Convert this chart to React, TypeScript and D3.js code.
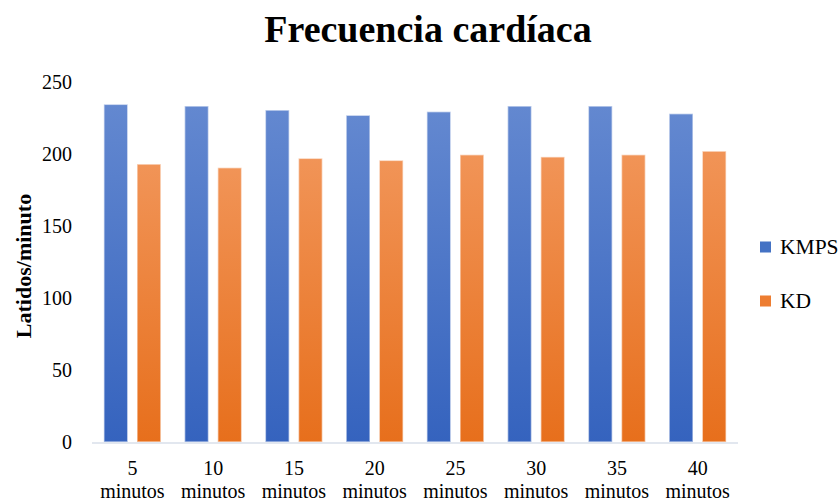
import React from "react";
import * as d3 from "d3";

const categories = ["5", "10", "15", "20", "25", "30", "35", "40"];
const unitLabel = "minutos";
const seriesNames = ["KMPS", "KD"];
const kmps = [234.5, 233.3, 230.5, 226.9, 229.4, 233.3, 233.3, 228];
const kd = [193, 190.5, 197, 195.6, 199.5, 198, 199.5, 202];
const yTicks = [0, 50, 100, 150, 200, 250];

const W = 840;
const H = 503;
const plotLeft = 92;
const plotRight = 738;
const plotTop = 82;
const plotBottom = 442;
const FONT = "Liberation Serif, Times New Roman, serif";

export default function App() {
  const x = d3.scaleBand<string>().domain(categories).range([plotLeft, plotRight]);
  const inner = d3.scaleBand<string>().domain(seriesNames).range([-28.5, 28.5]).paddingInner(0.28);
  const y = d3.scaleLinear().domain([0, 250]).range([plotBottom, plotTop]);
  const series = [kmps, kd];
  const fills = ["url(#gBlue)", "url(#gOrange)"];
  const swatch = ["#4472c4", "#ed7d31"];
  const ts = { fontFamily: FONT };

  return (
    <svg width={W} height={H} style={{ position: "absolute", left: 0, top: 0 }}>
      <defs>
        <linearGradient id="gBlue" x1="0" y1="0" x2="0" y2="1">
          <stop offset="0" stopColor="#6388d0" />
          <stop offset="1" stopColor="#3563be" />
        </linearGradient>
        <linearGradient id="gOrange" x1="0" y1="0" x2="0" y2="1">
          <stop offset="0" stopColor="#f19457" />
          <stop offset="1" stopColor="#e76f1c" />
        </linearGradient>
      </defs>
      <rect width={W} height={H} fill="#fff" />
      <text x={428} y={42} textAnchor="middle" fontSize={38} fontWeight="bold" fill="#000" style={ts}>
        Frecuencia cardíaca
      </text>
      <text
        transform={`translate(31,${266}) rotate(-90)`}
        textAnchor="middle"
        fontSize={22}
        fontWeight="bold"
        fill="#000"
        style={ts}
      >
        Latidos/minuto
      </text>
      {yTicks.map((t) => (
        <text key={t} x={72} y={y(t)} dy="0.33em" textAnchor="end" fontSize={20} fill="#000" style={ts}>
          {t}
        </text>
      ))}
      {categories.map((c, i) => (
        <g key={c}>
          {series.map((s, si) => {
            const bx = (x(c) as number) + x.bandwidth() / 2 + (inner(seriesNames[si]) as number);
            return (
              <rect
                key={si}
                x={bx}
                y={y(s[i])}
                width={inner.bandwidth()}
                height={plotBottom - y(s[i])}
                fill={fills[si]}
                stroke="rgba(255,255,255,0.55)"
                strokeWidth={1.5}
              />
            );
          })}
          <text x={(x(c) as number) + x.bandwidth() / 2} y={474.5} textAnchor="middle" fontSize={20} fill="#000" style={ts}>
            {c}
          </text>
          <text x={(x(c) as number) + x.bandwidth() / 2} y={498} textAnchor="middle" fontSize={20} fill="#000" style={ts}>
            {unitLabel}
          </text>
        </g>
      ))}
      <line x1={plotLeft} x2={plotRight} y1={plotBottom + 1} y2={plotBottom + 1} stroke="#d9dfea" strokeWidth={1.5} />
      {seriesNames.map((n, i) => (
        <g key={n} transform={`translate(760,${247 + i * 54})`}>
          <rect x={0} y={-5.5} width={11} height={11} fill={swatch[i]} />
          <text x={20} y={6.5} fontSize={21.5} fill="#000" style={ts}>
            {n}
          </text>
        </g>
      ))}
    </svg>
  );
}
